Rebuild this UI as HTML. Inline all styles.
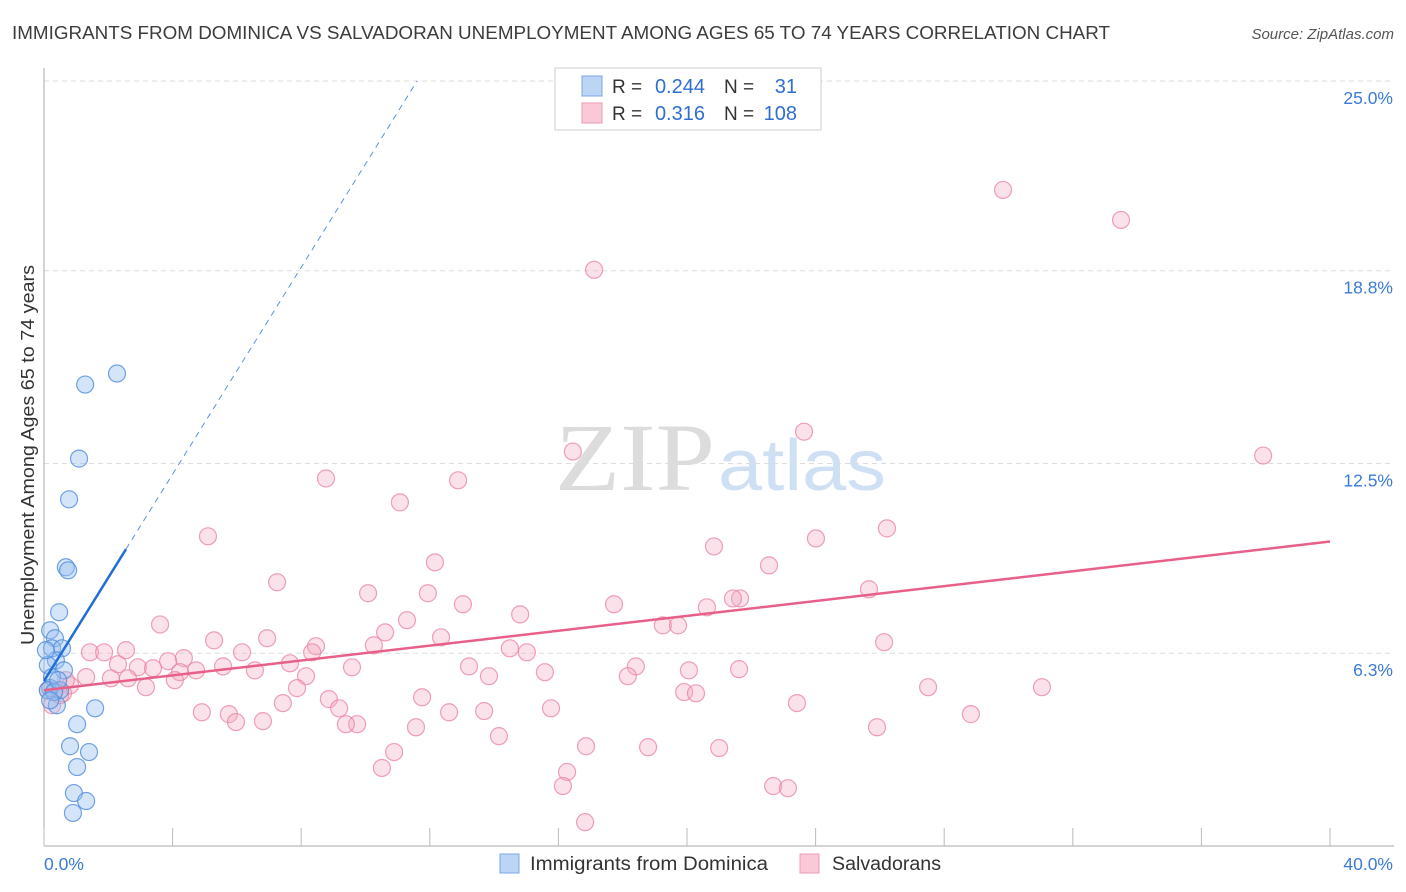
<!DOCTYPE html>
<html><head><meta charset="utf-8"><style>
body{margin:0;background:#fff;font-family:"Liberation Sans",sans-serif}
svg{display:block}
</style></head><body>
<svg id="chart" width="1406" height="892">
<text x="12" y="39" font-size="18" textLength="1098" lengthAdjust="spacingAndGlyphs" fill="#3c3c3c">IMMIGRANTS FROM DOMINICA VS SALVADORAN UNEMPLOYMENT AMONG AGES 65 TO 74 YEARS CORRELATION CHART</text>
<text x="1394" y="39" font-size="15" fill="#555" font-style="italic" text-anchor="end">Source: ZipAtlas.com</text>
<text x="555" y="490" font-size="96" textLength="160" lengthAdjust="spacingAndGlyphs" fill="#dcdcdc" font-family="Liberation Serif,serif">ZIP</text>
<text x="718" y="490" font-size="72" textLength="168" lengthAdjust="spacingAndGlyphs" fill="#cfe0f4">atlas</text>
<g id="grid"></g>
<g id="axes"></g>
<g id="pts"></g>
<g id="lines"></g>
<text transform="translate(34,455) rotate(-90)" font-size="18" textLength="380" lengthAdjust="spacingAndGlyphs" fill="#333" text-anchor="middle">Unemployment Among Ages 65 to 74 years</text>
<g>
<rect x="555" y="68" width="266" height="62" fill="#fff" stroke="#ccc"/>
<rect x="582" y="76" width="20" height="20" fill="#bcd5f5" stroke="#7aa8e8"/>
<rect x="582" y="103" width="20" height="20" fill="#f9c9d7" stroke="#ee9bb5"/>
<text x="612" y="93" font-size="19" fill="#333">R =</text>
<text x="705" y="93" font-size="20" fill="#2f6fd0" text-anchor="end">0.244</text>
<text x="724" y="93" font-size="19" fill="#333">N =</text>
<text x="797" y="93" font-size="20" fill="#2f6fd0" text-anchor="end">31</text>
<text x="612" y="120" font-size="19" fill="#333">R =</text>
<text x="705" y="120" font-size="20" fill="#2f6fd0" text-anchor="end">0.316</text>
<text x="724" y="120" font-size="19" fill="#333">N =</text>
<text x="797" y="120" font-size="20" fill="#2f6fd0" text-anchor="end">108</text>
</g>
<g>
<rect x="500" y="854" width="19" height="19" fill="#bcd5f5" stroke="#7aa8e8"/>
<text x="530" y="870" font-size="19" textLength="238" lengthAdjust="spacingAndGlyphs" fill="#333">Immigrants from Dominica</text>
<rect x="800" y="854" width="19" height="19" fill="#f9c9d7" stroke="#ee9bb5"/>
<text x="832" y="870" font-size="19" textLength="109" lengthAdjust="spacingAndGlyphs" fill="#333">Salvadorans</text>
</g>
</svg>
<script>
const blueX=[2.27,1.28,1.09,0.78,0.68,0.75,0.47,0.19,0.34,0.25,0.56,0.37,0.12,0.62,0.25,0.19,0.50,0.40,1.59,1.03,0.81,1.40,1.03,0.93,1.31,0.90,0.12,0.31,0.44,0.06,0.19];
const blueY=[15.44,15.08,12.66,11.33,9.11,9.01,7.64,7.05,6.79,6.46,6.46,6.07,5.91,5.74,5.52,5.16,5.09,4.60,4.50,3.98,3.26,3.07,2.58,1.73,1.47,1.08,5.09,5.03,5.42,6.40,4.76];
const pinkX=[29.83,33.50,17.11,23.64,37.92,16.45,8.77,12.88,11.07,26.22,5.10,24.01,20.84,12.16,22.55,7.25,25.66,10.08,11.94,21.65,21.43,13.03,17.73,20.62,14.81,11.29,3.61,19.25,19.72,10.61,12.35,6.94,5.29,26.13,8.46,10.26,6.16,14.49,15.02,1.43,1.87,2.55,8.34,4.35,3.86,7.65,2.30,2.92,3.39,4.73,5.57,18.41,13.22,9.58,15.58,20.06,6.56,8.15,4.23,21.62,13.84,18.16,1.31,2.08,2.61,4.07,0.81,3.17,7.87,31.04,27.50,19.91,20.28,0.34,0.59,11.76,8.86,7.43,23.42,15.77,9.18,4.91,5.75,12.60,13.69,28.83,9.74,9.39,5.97,6.81,11.57,25.91,14.15,10.89,16.86,18.79,21.00,10.51,16.27,16.14,22.68,23.14,16.83,0.25,0.50,0.12,0.68];
const pinkY=[21.44,20.46,18.83,13.54,12.76,12.89,12.01,11.95,11.23,10.38,10.12,10.05,9.79,9.27,9.17,8.62,8.39,8.26,8.26,8.09,8.09,7.90,7.90,7.80,7.57,7.38,7.24,7.21,7.21,6.98,6.82,6.79,6.72,6.66,6.53,6.56,6.33,6.46,6.33,6.33,6.33,6.40,6.33,6.14,6.04,5.97,5.94,5.84,5.81,5.74,5.87,5.87,5.87,5.84,5.68,5.74,5.74,5.55,5.68,5.78,5.55,5.55,5.52,5.48,5.48,5.42,5.25,5.19,5.16,5.19,5.19,5.03,4.99,5.09,4.99,4.86,4.80,4.67,4.67,4.50,4.50,4.37,4.31,4.37,4.41,4.31,3.98,3.98,4.05,4.08,3.88,3.88,3.59,3.07,3.26,3.23,3.20,2.55,2.42,1.96,1.96,1.89,0.78,4.60,4.93,5.09,5.42];
const yTicks=[6.3,12.5,18.8,25.0];
const yTickLabels=["6.3%","12.5%","18.8%","25.0%"];
const xTicks=[0,4,8,12,16,20,24,28,32,36,40];
const blueTrend=[5.39,1.69]; // intercept, slope
const pinkTrend=[5.09,0.1215];
const blueSolidEnd=2.55;

const X0=44,X1=1330,Y0=846,YTOP=81;
const sx=v=>X0+v/40*(X1-X0);
const sy=v=>Y0-v/25*(Y0-YTOP);
const NS="http://www.w3.org/2000/svg";
function mk(tag,parent,attrs){const e=document.createElementNS(NS,tag);for(const k in attrs)e.setAttribute(k,attrs[k]);document.getElementById(parent).appendChild(e);return e;}

yTicks.forEach((t,i)=>{
  const g=mk('line','grid',{x1:X0,x2:1394,y1:sy(t),y2:sy(t),stroke:'#ddd','stroke-dasharray':'5,4'});
  
  
  const l=mk('text','axes',{x:1393,y:sy(t)+23,'font-size':17.5,fill:'#3a7bd5','text-anchor':'end'});
  l.textContent=yTickLabels[i];
  
  
});
const ax=mk('line','axes',{x1:X0,x2:X0,y1:68,y2:Y0,stroke:'#aaa'});


const bx=mk('line','axes',{x1:X0,x2:1394,y1:Y0,y2:Y0,stroke:'#aaa'});


xTicks.forEach(t=>{
  const k=mk('line','axes',{x1:sx(t),x2:sx(t),y1:Y0-18,y2:Y0,stroke:'#bbb'});
  
  
});
const xl0=mk('text','axes',{x:44,y:870,'font-size':17.5,fill:'#3a7bd5'});xl0.textContent='0.0%';


const xl1=mk('text','axes',{x:1393,y:870,'font-size':17.5,fill:'#3a7bd5','text-anchor':'end'});xl1.textContent='40.0%';



pinkX.forEach((x,i)=>{
  const c=mk('circle','pts',{cx:sx(x),cy:sy(pinkY[i]),r:8.5,fill:'rgba(244,170,192,0.35)',stroke:'rgba(232,130,162,0.75)','stroke-width':1.2});
  
  
});
blueX.forEach((x,i)=>{
  const c=mk('circle','pts',{cx:sx(x),cy:sy(blueY[i]),r:8.5,fill:'rgba(150,190,240,0.4)',stroke:'rgba(80,140,220,0.8)','stroke-width':1.2});
  
  
});
const bEnd=(25-blueTrend[0])/blueTrend[1];
const bd=mk('line','lines',{x1:sx(blueSolidEnd),y1:sy(blueTrend[0]+blueTrend[1]*blueSolidEnd),x2:sx(bEnd),y2:sy(25),stroke:'#5b93dd','stroke-width':1,'stroke-dasharray':'6,5'});


const bs=mk('line','lines',{x1:sx(0),y1:sy(blueTrend[0]),x2:sx(blueSolidEnd),y2:sy(blueTrend[0]+blueTrend[1]*blueSolidEnd),stroke:'#1f6fd6','stroke-width':2.5});


const ps=mk('line','lines',{x1:sx(0),y1:sy(pinkTrend[0]),x2:sx(40),y2:sy(pinkTrend[0]+pinkTrend[1]*40),stroke:'#e8608a','stroke-width':2.5});


</script>
</body></html>
